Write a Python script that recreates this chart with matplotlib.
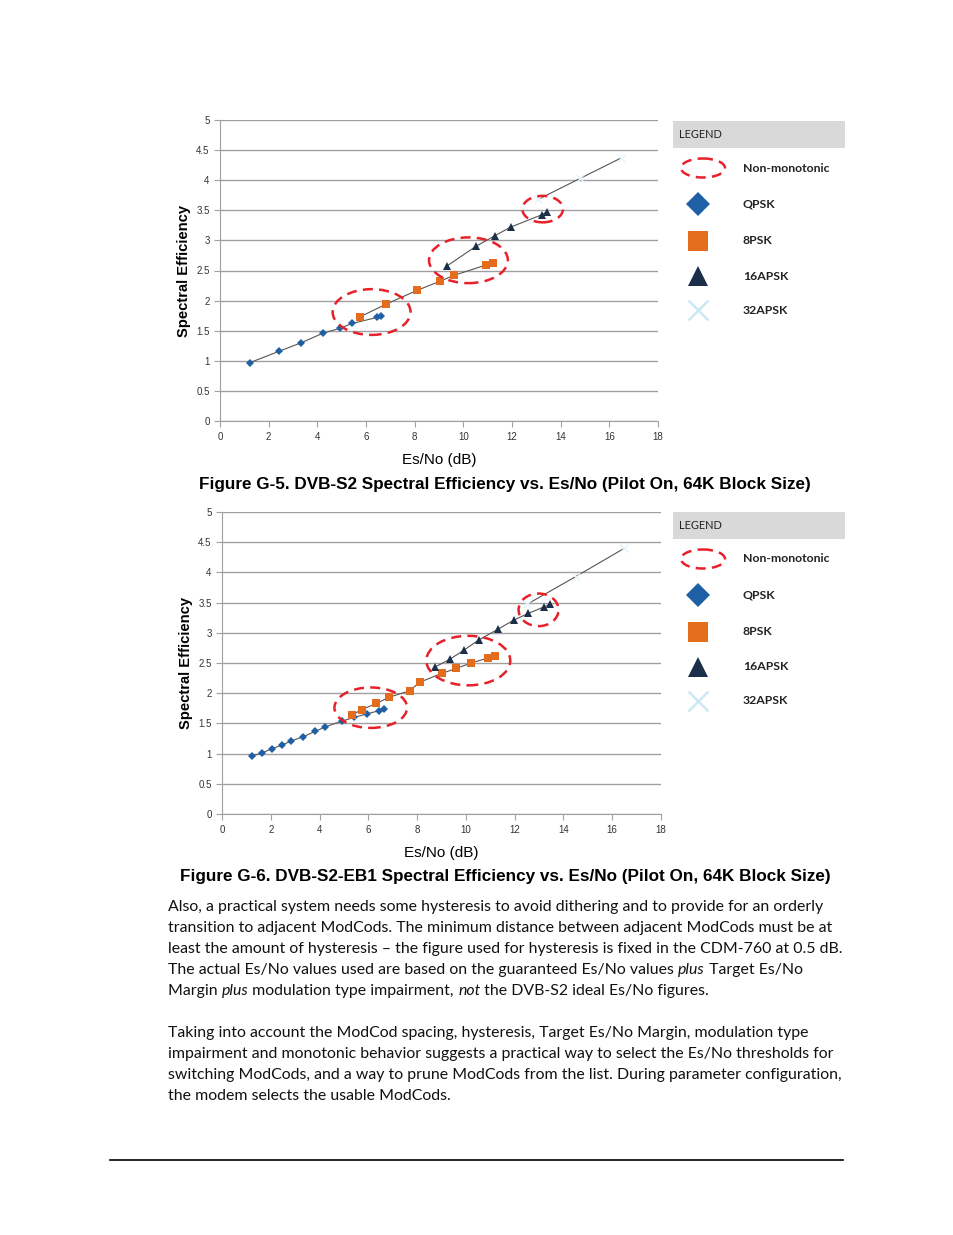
import matplotlib
matplotlib.use("Agg")
import matplotlib.pyplot as plt
from matplotlib.patches import Ellipse, Rectangle

W, H = 954, 1235

# ---- Figure G-5 : DVB-S2 ----
g5_qpsk_x = [1.23, 2.44, 3.34, 4.24, 4.93, 5.43, 6.45, 6.62]
g5_qpsk_y = [0.97, 1.16, 1.30, 1.46, 1.54, 1.62, 1.72, 1.74]
g5_8psk_x = [5.75, 6.82, 8.10, 9.03, 9.62, 10.92, 11.20]
g5_8psk_y = [1.73, 1.94, 2.17, 2.32, 2.42, 2.59, 2.62]
g5_16apsk_x = [9.31, 10.51, 11.31, 11.94, 13.25, 13.44]
g5_16apsk_y = [2.57, 2.90, 3.08, 3.22, 3.43, 3.48]
g5_32apsk_x = [13.07, 14.8, 16.49]
g5_32apsk_y = [3.68, 4.03, 4.37]
# non-monotonic regions: centre x, centre y, width, height
g5_regions = [(6.23, 1.81, 3.20, 0.76), (10.21, 2.67, 3.24, 0.76), (13.26, 3.52, 1.67, 0.44)]

# ---- Figure G-6 : DVB-S2-EB1 ----
g6_qpsk_x = [1.23, 1.64, 2.04, 2.45, 2.84, 3.33, 3.83, 4.22, 4.93, 5.43, 5.95, 6.45, 6.63]
g6_qpsk_y = [0.96, 1.01, 1.08, 1.14, 1.21, 1.28, 1.37, 1.44, 1.54, 1.60, 1.66, 1.71, 1.74]
g6_8psk_x = [5.33, 5.74, 6.33, 6.83, 7.69, 8.10, 9.02, 9.61, 10.21, 10.89, 11.21]
g6_8psk_y = [1.64, 1.73, 1.83, 1.93, 2.04, 2.18, 2.33, 2.41, 2.50, 2.58, 2.61]
g6_16apsk_x = [8.72, 9.33, 9.91, 10.52, 11.32, 11.96, 12.55, 13.21, 13.43]
g6_16apsk_y = [2.43, 2.56, 2.71, 2.88, 3.06, 3.21, 3.32, 3.43, 3.47]
g6_32apsk_x = [12.50, 14.5, 16.50]
g6_32apsk_y = [3.47, 3.93, 4.40]
g6_regions = [(6.10, 1.76, 2.98, 0.67), (10.10, 2.54, 3.44, 0.82), (12.98, 3.38, 1.64, 0.54)]

x_ticks = [0, 2, 4, 6, 8, 10, 12, 14, 16, 18]
y_ticks = [0, 0.5, 1, 1.5, 2, 2.5, 3, 3.5, 4, 4.5, 5]
legend_labels = ["Non-monotonic", "QPSK", "8PSK", "16APSK", "32APSK"]

RED = "#e8202a"
styles = {
    "QPSK": dict(marker="D", ms=4.2, color="#1f5fa6"),
    "8PSK": dict(marker="s", ms=6, color="#e36c1d"),
    "16APSK": dict(marker="^", ms=6, color="#1b2f4a"),
    "32APSK": dict(marker="x", ms=6, color="#e6f3f9", mew=1.0),
}

fig = plt.figure(figsize=(W / 100, H / 100), dpi=100)
plt.rcParams["font.family"] = ["Liberation Sans", "DejaVu Sans"]


def px_axes(left, top, right, bottom):
    return fig.add_axes([left / W, 1 - bottom / H, (right - left) / W, (bottom - top) / H])


def draw_chart(box, series, regions):
    ax = px_axes(*box)
    for name, (xs, ys) in series.items():
        ax.plot(xs, ys, color="#555555", lw=0.8, zorder=3)
        st = styles[name]
        ax.plot(xs, ys, ls="none", marker=st["marker"], ms=st["ms"], color=st["color"],
                mew=st.get("mew", 0), zorder=4)
    for cx, cy, w, h in regions:
        ax.add_patch(Ellipse((cx, cy), w, h, fill=False, ec=RED, lw=1.8,
                             ls=(0, (4, 2.5)), zorder=5))
    ax.set_xlim(0, 18)
    ax.set_ylim(0, 5)
    ax.set_xticks(x_ticks)
    ax.set_yticks(y_ticks)
    ax.set_yticklabels([f"{t:g}" for t in y_ticks])
    ax.grid(axis="y", color="#a0a0a0", lw=1.0)
    ax.set_axisbelow(True)
    for s in ["top", "right"]:
        ax.spines[s].set_visible(False)
    for s in ["left", "bottom"]:
        ax.spines[s].set_color("#a0a0a0")
    ax.tick_params(colors="#a0a0a0", labelcolor="#333333", labelsize=7, length=4, width=0.8)
    ax.tick_params(axis="x", pad=4)
    ax.set_xlabel("Es/No (dB)", fontsize=11, labelpad=8)
    ax.set_ylabel("Spectral Efficiency", fontsize=10.6, fontweight="bold", labelpad=4)
    return ax


def draw_legend(top):
    lg = px_axes(668, top - 5, 850, top + 215)
    lg.set_xlim(668, 850)
    lg.set_ylim(top + 215, top - 5)
    lg.axis("off")
    lg.add_patch(Rectangle((673, top), 172, 27, color="#d9d9d9", lw=0))
    lg.text(679, top + 14, "LEGEND", fontsize=7.9, va="center", color="#222222", family="Lato")
    rows = [top + 47, top + 83, top + 120, top + 155, top + 189]
    lg.add_patch(Ellipse((703, rows[0]), 44, 19, fill=False, ec=RED, lw=1.8, ls=(0, (4, 2.5))))
    for name, yy in zip(legend_labels[1:], rows[1:]):
        st = styles[name]
        size = {"QPSK": 12, "8PSK": 14, "16APSK": 15, "32APSK": 15}[name]
        color = "#cce8f4" if name == "32APSK" else st["color"]
        lg.plot([698], [yy], ls="none", marker=st["marker"], ms=size, color=color,
                mew=1.8 if name == "32APSK" else 0)
    for lab, yy in zip(legend_labels, rows):
        lg.text(743, yy, lab, fontsize=8.8, fontweight="bold", va="center",
                color="#222222", family="Lato")


draw_chart((220, 120, 658, 421),
           {"QPSK": (g5_qpsk_x, g5_qpsk_y), "8PSK": (g5_8psk_x, g5_8psk_y),
            "16APSK": (g5_16apsk_x, g5_16apsk_y), "32APSK": (g5_32apsk_x, g5_32apsk_y)},
           g5_regions)
draw_legend(121)

draw_chart((222, 512, 661, 814),
           {"QPSK": (g6_qpsk_x, g6_qpsk_y), "8PSK": (g6_8psk_x, g6_8psk_y),
            "16APSK": (g6_16apsk_x, g6_16apsk_y), "32APSK": (g6_32apsk_x, g6_32apsk_y)},
           g6_regions)
draw_legend(512)

fig.text(505 / W, 1 - 485 / H,
         "Figure G-5. DVB-S2 Spectral Efficiency vs. Es/No (Pilot On, 64K Block Size)",
         ha="center", va="center", fontsize=12.3, fontweight="bold")
fig.text(505 / W, 1 - 877 / H,
         "Figure G-6. DVB-S2-EB1 Spectral Efficiency vs. Es/No (Pilot On, 64K Block Size)",
         ha="center", va="center", fontsize=12.3, fontweight="bold")

# body text, italic words marked with *
body = [
    (907, "Also, a practical system needs some hysteresis to avoid dithering and to provide for an orderly"),
    (928, "transition to adjacent ModCods. The minimum distance between adjacent ModCods must be at"),
    (949, "least the amount of hysteresis \u2013 the figure used for hysteresis is fixed in the CDM-760 at 0.5 dB."),
    (970, "The actual Es/No values used are based on the guaranteed Es/No values *plus* Target Es/No"),
    (991, "Margin *plus* modulation type impairment, *not* the DVB-S2 ideal Es/No figures."),
    (1033, "Taking into account the ModCod spacing, hysteresis, Target Es/No Margin, modulation type"),
    (1054, "impairment and monotonic behavior suggests a practical way to select the Es/No thresholds for"),
    (1075, "switching ModCods, and a way to prune ModCods from the list. During parameter configuration,"),
    (1096, "the modem selects the usable ModCods."),
]
renderer = fig.canvas.get_renderer()
for y, line in body:
    x = 168
    for i, part in enumerate(line.split("*")):
        if not part:
            continue
        t = fig.text(x / W, 1 - y / H, part, fontsize=11.4, va="center", ha="left",
                     family="Lato", style="italic" if i % 2 else "normal", color="#111111")
        x += t.get_window_extent(renderer).width

fig.add_artist(plt.Line2D([110 / W, 843 / W], [1 - 1160 / H, 1 - 1160 / H], color="black", lw=1.2))

fig.savefig("out.png", dpi=100)
